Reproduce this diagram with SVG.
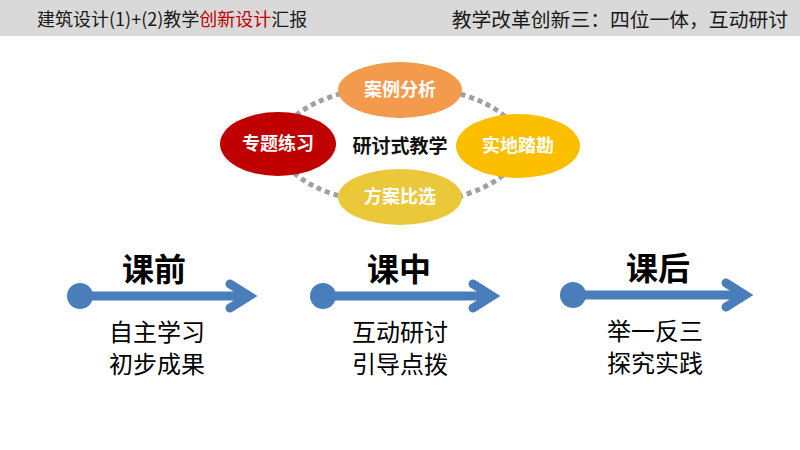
<svg xmlns="http://www.w3.org/2000/svg" width="800" height="450" viewBox="0 0 800 450">
<style>
.hdr{font-family:"Noto Sans CJK SC","Liberation Sans",sans-serif;font-size:18px;fill:#1a1a1a}
.lbl{font-family:"Noto Sans CJK SC",sans-serif;font-size:18px;font-weight:bold;fill:#ffffff;text-anchor:middle}
.ctr{font-family:"Noto Sans CJK SC",sans-serif;font-size:19px;font-weight:bold;fill:#111111;text-anchor:middle}
.ttl{font-family:"Noto Sans CJK SC",sans-serif;font-size:32px;font-weight:bold;fill:#000000;text-anchor:middle}
.sub{font-family:"Noto Sans CJK SC",sans-serif;font-size:24px;fill:#000000;text-anchor:middle}
.shaft{stroke:#4a7ebb;stroke-width:9;fill:none}
.head{stroke:#4a7ebb;stroke-width:9;fill:none;stroke-linecap:round;stroke-linejoin:miter}
.dot{fill:#4a7ebb}
</style>
<rect x="0" y="0" width="800" height="36" fill="#d9d9d9"/>
<text class="hdr" x="37" y="26">建筑设计(1)+(2)教学<tspan fill="#c00000">创新设计</tspan>汇报</text>
<text class="hdr" x="788" y="27" text-anchor="end" style="font-size:19.8px">教学改革创新三：四位一体，互动研讨</text>

<g id="connectors">
<ellipse cx="400" cy="145" rx="120" ry="59" fill="none" stroke="#a0a0a0" stroke-width="5" stroke-dasharray="5 4"/>
</g>

<g id="node-anli"><ellipse cx="400" cy="90" rx="62" ry="28" fill="#f39a4c"/><text class="lbl" x="400" y="96">案例分析</text></g>
<g id="node-zhuanti"><ellipse cx="278" cy="144" rx="58" ry="32" fill="#c00000"/><text class="lbl" x="278" y="150">专题练习</text></g>
<g id="node-shidi"><ellipse cx="518" cy="146" rx="62" ry="32" fill="#fbbf00"/><text class="lbl" x="518" y="152">实地踏勘</text></g>
<g id="node-fangan"><ellipse cx="400" cy="197" rx="62" ry="28" fill="#ebc73a"/><text class="lbl" x="400" y="203">方案比选</text></g>
<g id="node-center"><text class="ctr" x="400" y="153">研讨式教学</text></g>

<g id="stage-qian">
<text class="ttl" x="154" y="281">课前</text>
<line class="shaft" x1="80" y1="296" x2="247" y2="296"/>
<polyline class="head" points="230,284 249,296 230,308"/>
<circle class="dot" cx="80" cy="296" r="13"/>
<text class="sub" x="157" y="341">自主学习</text>
<text class="sub" x="157" y="373">初步成果</text>
</g>
<g id="stage-zhong">
<text class="ttl" x="399" y="281">课中</text>
<line class="shaft" x1="323" y1="296" x2="490" y2="296"/>
<polyline class="head" points="473,284 492,296 473,308"/>
<circle class="dot" cx="323" cy="296" r="13"/>
<text class="sub" x="400" y="341">互动研讨</text>
<text class="sub" x="400" y="373">引导点拨</text>
</g>
<g id="stage-hou">
<text class="ttl" x="658" y="280">课后</text>
<line class="shaft" x1="573" y1="295" x2="743" y2="295"/>
<polyline class="head" points="726,283 745,295 726,307"/>
<circle class="dot" cx="573" cy="295" r="13"/>
<text class="sub" x="655" y="340">举一反三</text>
<text class="sub" x="655" y="372">探究实践</text>
</g>
</svg>
